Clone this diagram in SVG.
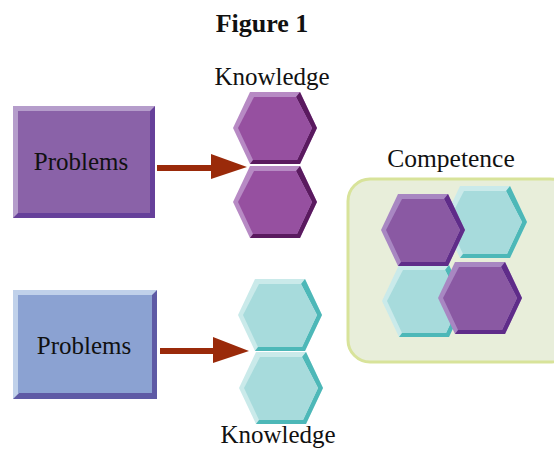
<svg xmlns="http://www.w3.org/2000/svg" xmlns:xlink="http://www.w3.org/1999/xlink" width="554" height="450" viewBox="0 0 554 450">
  <style>
    text { font-family: "Liberation Serif", "Times New Roman", serif; fill: #111; text-anchor: middle; }
    .title { font-weight: bold; font-size: 26px; }
    .lbl { font-size: 25px; }
    .arrow { fill: #9A2A0A; }
    /* knowledge hexagons, purple */
    .kp .l { fill: #B78AC4; } .kp .d { fill: #5A1A5F; } .kp .f { fill: #9650A0; }
    /* teal hexagons */
    .tl .l { fill: #CAEAEA; } .tl .d { fill: #4DB8B8; } .tl .f { fill: #A7DBDC; }
    /* competence hexagons, purple */
    .cp .l { fill: #A887C2; } .cp .d { fill: #5F2C89; } .cp .f { fill: #8A59A3; }
  </style>
  <defs>
    <!-- bevelled hexagon: light rim, dark lower-right rim, face -->
    <polygon id="hxO" points="-42,0 -25,-36 25,-36 42,0 25,36 -25,36"/>
    <polygon id="hxD" points="25,-36 42,0 25,36 -25,36 -22,32 22,32 37,0 21,-31"/>
    <polygon id="hxF" points="-37,0 -21,-31 21,-31 37,0 22,32 -22,32"/>
  </defs>

  <text class="title" x="262" y="32">Figure 1</text>

  <!-- problem boxes -->
  <g id="problems-top">
    <rect x="13" y="106" width="142" height="112" fill="#B59DCB"/>
    <polygon points="155,106 155,218 13,218 18,213 150,213 150,111" fill="#66409A"/>
    <rect x="18" y="111" width="132" height="102" fill="#8A62A8"/>
    <text class="lbl" x="81" y="170">Problems</text>
  </g>
  <g id="problems-bottom">
    <rect x="13" y="290" width="144" height="109" fill="#C0D1EA"/>
    <polygon points="157,290 157,399 13,399 19,393 152,393 152,295" fill="#5E5AA5"/>
    <rect x="18" y="295" width="134" height="98" fill="#8BA2D2"/>
    <text class="lbl" x="84" y="354">Problems</text>
  </g>

  <!-- knowledge (top) -->
  <g id="knowledge-top">
    <text class="lbl" x="272" y="85">Knowledge</text>
    <g class="kp" transform="translate(275,128)"><use href="#hxO" class="l"/><use href="#hxD" class="d"/><use href="#hxF" class="f"/></g>
    <g class="kp" transform="translate(275,202)"><use href="#hxO" class="l"/><use href="#hxD" class="d"/><use href="#hxF" class="f"/></g>
  </g>

  <!-- knowledge (bottom) -->
  <g id="knowledge-bottom">
    <g class="tl" transform="translate(280,315)"><use href="#hxO" class="l"/><use href="#hxD" class="d"/><use href="#hxF" class="f"/></g>
    <g class="tl" transform="translate(281,388)"><use href="#hxO" class="l"/><use href="#hxD" class="d"/><use href="#hxF" class="f"/></g>
    <text class="lbl" x="278" y="443">Knowledge</text>
  </g>

  <!-- competence -->
  <g id="competence">
    <text class="lbl" x="451" y="167" style="font-size:25.5px">Competence</text>
    <rect x="348" y="179" width="224" height="183" rx="22" fill="#E8EEDA" stroke="#D8E39A" stroke-width="3"/>
    <g class="tl" transform="translate(485,222)"><use href="#hxO" class="l"/><use href="#hxD" class="d"/><use href="#hxF" class="f"/></g>
    <g class="tl" transform="translate(424,301)"><use href="#hxO" class="l"/><use href="#hxD" class="d"/><use href="#hxF" class="f"/></g>
    <g class="cp" transform="translate(423,230)"><use href="#hxO" class="l"/><use href="#hxD" class="d"/><use href="#hxF" class="f"/></g>
    <g class="cp" transform="translate(480,298)"><use href="#hxO" class="l"/><use href="#hxD" class="d"/><use href="#hxF" class="f"/></g>
  </g>

  <!-- connectors -->
  <g id="connectors">
    <polygon class="arrow" points="157,165 211,165 211,154 247,167 211,179 211,171 157,171"/>
    <polygon class="arrow" points="160,348 213,348 213,337 249,351 213,363 213,354 160,354"/>
  </g>
</svg>
